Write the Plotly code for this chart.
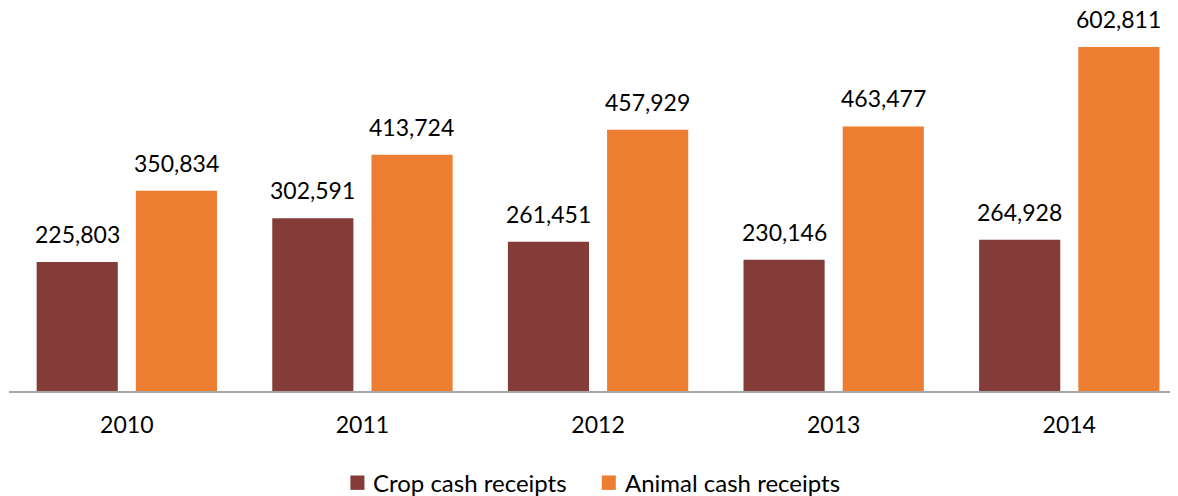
import plotly.graph_objects as go

years = ["2010", "2011", "2012", "2013", "2014"]
crop = [225803, 302591, 261451, 230146, 264928]
animal = [350834, 413724, 457929, 463477, 602811]
series_names = ["Crop cash receipts", "Animal cash receipts"]

FONT = "Lato"
CROP_C = "#843C39"
ANIM_C = "#ED7D31"

# figure geometry (pixels inside the figure)
W, H = 1178, 496
L, T = 1.4, 12
PLOT_BOTTOM = 382.7
B = H - PLOT_BOTTOM
PW = W - L
PH = PLOT_BOTTOM - T

def px2paper_x(px):
    return (px - L) / PW

def px2paper_y(py):
    return (PLOT_BOTTOM - py) / PH

fig = go.Figure()
fig.add_trace(go.Bar(name=series_names[0], x=years, y=crop,
                     marker=dict(color=CROP_C, line=dict(width=0))))
fig.add_trace(go.Bar(name=series_names[1], x=years, y=animal,
                     marker=dict(color=ANIM_C, line=dict(width=0))))

# value labels above bars (each bar sits half a slot from its category centre)
OFF = 49.5
annos = []
for i, v in enumerate(crop):
    annos.append(dict(x=i, y=v, xref="x", yref="y", text=f"{v:,}", showarrow=False,
                      xshift=-OFF, yshift=12, yanchor="bottom",
                      font=dict(family=FONT, size=23, color="#000000")))
for i, v in enumerate(animal):
    annos.append(dict(x=i, y=v, xref="x", yref="y", text=f"{v:,}", showarrow=False,
                      xshift=OFF, yshift=12, yanchor="bottom",
                      font=dict(family=FONT, size=23, color="#000000")))

# manual legend
shapes = []
leg_sq_x = [342.7, 594.0]
leg_txt_x = [363.0, 615.0]
leg_cy = 474.3
for sx, tx, name, col in zip(leg_sq_x, leg_txt_x, series_names, [CROP_C, ANIM_C]):
    shapes.append(dict(type="rect", xref="paper", yref="paper",
                       x0=px2paper_x(sx), x1=px2paper_x(sx + 14),
                       y0=px2paper_y(leg_cy - 7.2), y1=px2paper_y(leg_cy + 7.2),
                       fillcolor=col, line=dict(width=0)))
    annos.append(dict(x=px2paper_x(tx), y=px2paper_y(leg_cy), xref="paper", yref="paper",
                      text=name, showarrow=False, xanchor="left", yanchor="middle",
                      font=dict(family=FONT, size=24, color="#000000")))

fig.update_layout(
    width=W, height=H,
    margin=dict(l=L, r=0, t=T, b=B),
    paper_bgcolor="white", plot_bgcolor="white",
    barmode="group", bargap=0.158, bargroupgap=0.182,
    font=dict(family=FONT, size=22, color="#000000"),
    showlegend=False,
    xaxis=dict(type="category", range=[-0.5, -0.5 + PW / 235.54], showgrid=False, zeroline=False,
               showline=True, linecolor="#A6A6A6", linewidth=1.5, ticks="", ticklabelstandoff=13,
               tickfont=dict(family=FONT, size=23), automargin=False),
    yaxis=dict(range=[0, 650000], visible=False, showgrid=False, zeroline=False, automargin=False),
    annotations=annos,
    shapes=shapes,
)
fig.write_html("out.html")
